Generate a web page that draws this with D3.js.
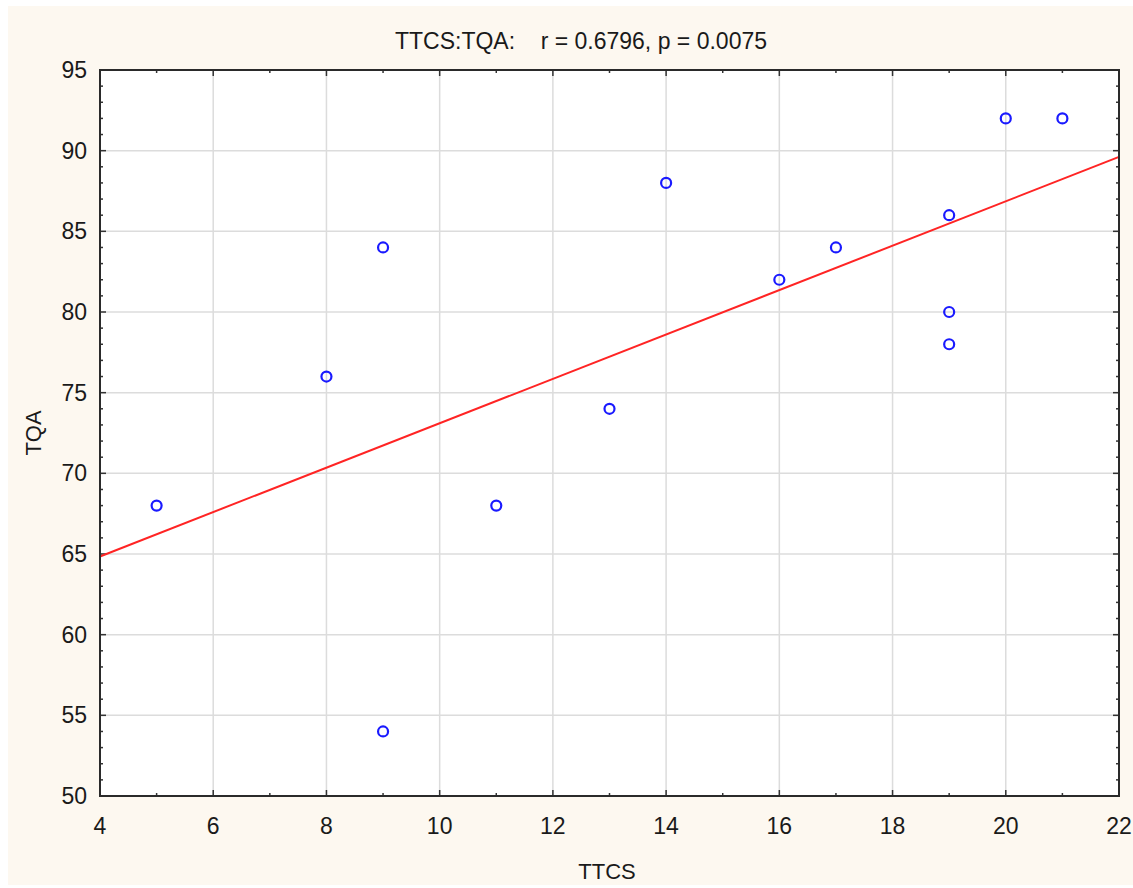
<!DOCTYPE html>
<meta charset="utf-8">
<style>
  body { margin: 0; background: #fff; }
  text { font-family: "Liberation Sans", Arial, sans-serif; fill: #1a1a1a; }
</style>
<svg width="1133" height="888"></svg>
<script src="https://d3js.org/d3.v7.min.js"></script>
<script>

// data
var ttcs = [5, 8, 9, 9, 11, 13, 14, 16, 17, 19, 19, 19, 20, 21];
var tqa  = [68, 76, 84, 54, 68, 74, 88, 82, 84, 86, 80, 78, 92, 92];
var xTicks = [4, 6, 8, 10, 12, 14, 16, 18, 20, 22];
var yTicks = [50, 55, 60, 65, 70, 75, 80, 85, 90, 95];
var title = "TTCS:TQA:    r = 0.6796, p = 0.0075";

var svg = d3.select("svg");
var margin = {left: 100, right: 1119, top: 70, bottom: 796};

// beige panel
svg.append("rect")
    .attr("x", 8).attr("y", 6)
    .attr("width", 1125).attr("height", 879)
    .attr("fill", "#fdf8f0");

var x = d3.scaleLinear().domain([4, 22]).range([margin.left, margin.right]);
var y = d3.scaleLinear().domain([50, 95]).range([margin.bottom, margin.top]);

svg.append("rect")
    .attr("x", margin.left).attr("y", margin.top)
    .attr("width", margin.right - margin.left)
    .attr("height", margin.bottom - margin.top)
    .attr("fill", "#fff");

// grid
var g = svg.append("g");
g.selectAll(".vgrid").data(xTicks.slice(1, -1)).enter().append("line")
    .attr("x1", function(d){ return x(d); }).attr("x2", function(d){ return x(d); })
    .attr("y1", margin.top).attr("y2", margin.bottom)
    .attr("stroke", "#dcdcdc").attr("stroke-width", 1.5);
g.selectAll(".hgrid").data(yTicks.slice(1, -1)).enter().append("line")
    .attr("y1", function(d){ return y(d); }).attr("y2", function(d){ return y(d); })
    .attr("x1", margin.left).attr("x2", margin.right)
    .attr("stroke", "#dcdcdc").attr("stroke-width", 1.5);

// ticks inside the frame, on all four sides
var xMinor = d3.range(4, 22.01, 1);
var yMinor = d3.range(50, 95.01, 1);
function tickLen(major) { return major ? 6 : 3; }

xMinor.forEach(function(v){
  var major = v % 2 === 0, L = tickLen(major);
  g.append("line").attr("x1", x(v)).attr("x2", x(v))
    .attr("y1", margin.bottom).attr("y2", margin.bottom - L)
    .attr("stroke", "#333").attr("stroke-width", 1.5);
  g.append("line").attr("x1", x(v)).attr("x2", x(v))
    .attr("y1", margin.top).attr("y2", margin.top + L)
    .attr("stroke", "#333").attr("stroke-width", 1.5);
});
yMinor.forEach(function(v){
  var major = v % 5 === 0, L = tickLen(major);
  g.append("line").attr("y1", y(v)).attr("y2", y(v))
    .attr("x1", margin.left).attr("x2", margin.left + L)
    .attr("stroke", "#333").attr("stroke-width", 1.5);
  g.append("line").attr("y1", y(v)).attr("y2", y(v))
    .attr("x1", margin.right).attr("x2", margin.right - L)
    .attr("stroke", "#333").attr("stroke-width", 1.5);
});

// regression line (least squares)
var mx = d3.mean(ttcs), my = d3.mean(tqa);
var sxy = d3.sum(ttcs, function(d, i){ return (d - mx) * (tqa[i] - my); });
var sxx = d3.sum(ttcs, function(d){ return (d - mx) * (d - mx); });
var slope = sxy / sxx, icpt = my - slope * mx;
svg.append("line")
    .attr("x1", x(4)).attr("y1", y(icpt + slope * 4))
    .attr("x2", x(22)).attr("y2", y(icpt + slope * 22))
    .attr("stroke", "#ff2424").attr("stroke-width", 2);

// points
svg.selectAll(".pt").data(ttcs).enter().append("circle")
    .attr("cx", function(d){ return x(d); })
    .attr("cy", function(d, i){ return y(tqa[i]); })
    .attr("r", 5)
    .attr("fill", "none")
    .attr("stroke", "#1a1aff").attr("stroke-width", 2.2);

// frame
svg.append("rect")
    .attr("x", margin.left).attr("y", margin.top)
    .attr("width", margin.right - margin.left)
    .attr("height", margin.bottom - margin.top)
    .attr("fill", "none").attr("stroke", "#2a2a2a").attr("stroke-width", 2);

// tick labels
svg.selectAll(".xl").data(xTicks).enter().append("text")
    .attr("x", function(d){ return x(d); }).attr("y", 834)
    .attr("text-anchor", "middle").style("font-size", "23px")
    .text(function(d){ return d; });
svg.selectAll(".yl").data(yTicks).enter().append("text")
    .attr("x", 87).attr("y", function(d){ return y(d) + 8; })
    .attr("text-anchor", "end").style("font-size", "23px")
    .text(function(d){ return d; });

// titles
svg.append("text").attr("x", 581).attr("y", 49)
    .attr("text-anchor", "middle").style("font-size", "23px")
    .style("white-space", "pre").attr("xml:space", "preserve")
    .text(title);
svg.append("text").attr("x", 607).attr("y", 879)
    .attr("text-anchor", "middle").style("font-size", "22px")
    .text("TTCS");
svg.append("text")
    .attr("transform", "translate(41,433) rotate(-90)")
    .attr("text-anchor", "middle").style("font-size", "22px")
    .text("TQA");
</script>
